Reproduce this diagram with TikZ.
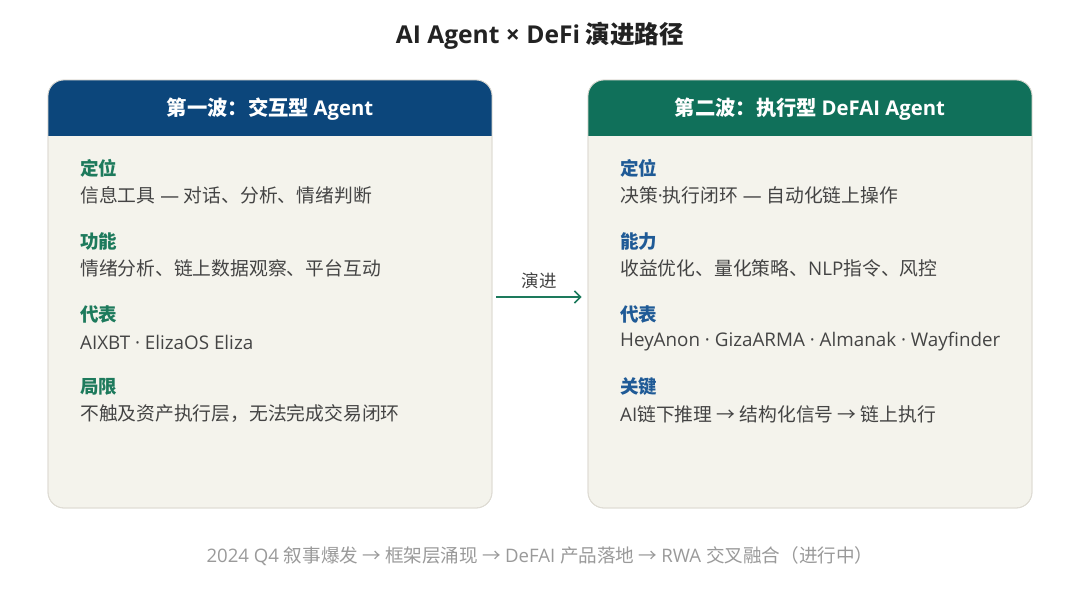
\documentclass[tikz,border=0pt]{standalone}
\usepackage{fontspec}
\setmainfont{Noto Sans CJK SC}
\newfontfamily\lat{Open Sans}
\usetikzlibrary{arrows.meta}
\definecolor{navyhead}{HTML}{0C467B}
\definecolor{greenhead}{HTML}{10705A}
\definecolor{cardbg}{HTML}{F4F3EC}
\definecolor{cardline}{HTML}{DEDBD3}
\definecolor{lblgreen}{HTML}{1D7A5C}
\definecolor{lblblue}{HTML}{1F5A96}
\definecolor{bodytxt}{HTML}{444444}
\definecolor{foottxt}{HTML}{9A9A9A}
\definecolor{titletxt}{HTML}{222222}
\begin{document}
\begin{tikzpicture}[x=1pt,y=-1pt,
  cardbox/.style={draw=cardline, line width=0.8pt, fill=cardbg, rounded corners=16pt, minimum width=444pt, minimum height=428pt, inner sep=0pt},
  headtxt/.style={text=white, font=\fontsize{20.3}{24}\selectfont\bfseries},
  lbl/.style={anchor=west, inner sep=0pt, font=\fontsize{18.5}{22}\selectfont\bfseries},
  body/.style={anchor=west, inner sep=0pt, text=bodytxt, font=\fontsize{18.8}{22}\selectfont},
  flow/.style={draw=lblgreen, line width=1.6pt, -{Straight Barb[length=6pt,width=12pt,line width=1.6pt]}}
]
\useasboundingbox (0,0) rectangle (1080,603);
\fill[white] (0,0) rectangle (1080,603);

\node[inner sep=0pt, text=titletxt, font=\fontsize{24.6}{29}\selectfont\bfseries] (title) at (540,36) {{\lat AI Agent × DeFi} 演进路径};

% left card
\node[cardbox] (cardL) at (270,294) {};
\begin{scope}
  \clip[rounded corners=16pt] (48,80) rectangle (492,508);
  \fill[navyhead] (48,80) rectangle (492,136);
\end{scope}
\draw[cardline, line width=0.8pt, rounded corners=16pt] (48,80) rectangle (492,508);
\node[headtxt] (headL) at (270,109) {第一波：交互型 {\lat Agent}};

% right card
\node[cardbox] (cardR) at (810,294) {};
\begin{scope}
  \clip[rounded corners=16pt] (588,80) rectangle (1032,508);
  \fill[greenhead] (588,80) rectangle (1032,136);
\end{scope}
\draw[cardline, line width=0.8pt, rounded corners=16pt] (588,80) rectangle (1032,508);
\node[headtxt] (headR) at (810,109) {第二波：执行型 {\lat DeFAI Agent}};

% left contents
\node[lbl, text=lblgreen] (l1) at (80,168) {定位};
\node[body] (b1) at (80,195) {信息工具{\lat\ — }对话、分析、情绪判断};
\node[lbl, text=lblgreen] (l2) at (80,241) {功能};
\node[body] (b2) at (80,268) {情绪分析、链上数据观察、平台互动};
\node[lbl, text=lblgreen] (l3) at (80,314) {代表};
\node[body] (b3) at (80,342) {\lat AIXBT · ElizaOS Eliza};
\node[lbl, text=lblgreen] (l4) at (80,387) {局限};
\node[body] (b4) at (80,414) {不触及资产执行层，无法完成交易闭环};

% right contents
\node[lbl, text=lblblue] (r1) at (620,168) {定位};
\node[body] (c1) at (620,195) {决策{\lat ·}执行闭环{\lat\ — }自动化链上操作};
\node[lbl, text=lblblue] (r2) at (620,241) {能力};
\node[body] (c2) at (620,268) {收益优化、量化策略、{\lat NLP}指令、风控};
\node[lbl, text=lblblue] (r3) at (620,314) {代表};
\node[body] (c3) at (620,342) {\lat HeyAnon · GizaARMA · Almanak · Wayfinder};
\node[lbl, text=lblblue] (r4) at (620,387) {关键};
\node[body] (c4) at (620,414) {{\lat AI}链下推理 → 结构化信号 → 链上执行};

% connector
\draw[flow] ([xshift=4pt,yshift=-3pt]cardL.east) -- node[above=7pt, inner sep=0pt, text=bodytxt, font=\fontsize{17.5}{20}\selectfont] (evo) {演进} ([xshift=-6pt,yshift=-3pt]cardR.west);

% footer
\node[inner sep=0pt, text=foottxt, font=\fontsize{18.6}{22}\selectfont] (foot) at (540,556) {{\lat 2024 Q4 }叙事爆发 → 框架层涌现 → {\lat DeFAI }产品落地 → {\lat RWA }交叉融合（进行中）};
\end{tikzpicture}
\end{document}
